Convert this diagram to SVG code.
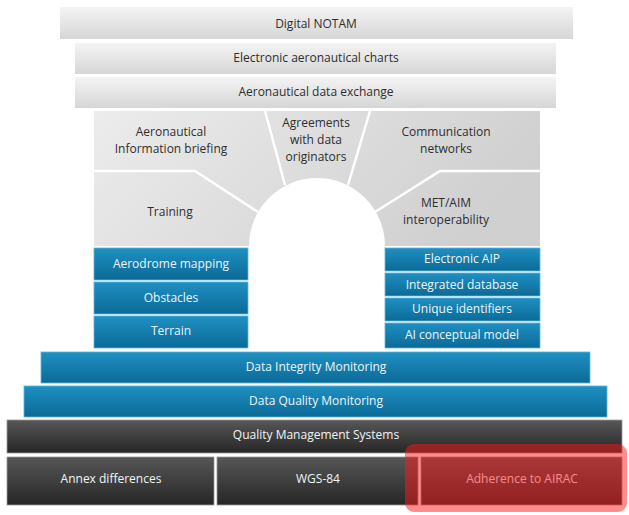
<svg xmlns="http://www.w3.org/2000/svg" width="629" height="515" viewBox="0 0 629 515">
<defs>
<linearGradient id="gTop" x1="0" y1="0" x2="0" y2="1">
<stop offset="0" stop-color="#f4f4f4"/><stop offset="1" stop-color="#d6d6d6"/>
</linearGradient>
<linearGradient id="gMid" x1="0" y1="0" x2="1" y2="0.3">
<stop offset="0" stop-color="#ececec"/><stop offset="1" stop-color="#d0d0d0"/>
</linearGradient>
<linearGradient id="gBlue" x1="0" y1="0" x2="0" y2="1">
<stop offset="0" stop-color="#1f90c2"/><stop offset="1" stop-color="#0b6a97"/>
</linearGradient>
<linearGradient id="gDark" x1="0" y1="0" x2="0" y2="1">
<stop offset="0" stop-color="#575757"/><stop offset="1" stop-color="#262626"/>
</linearGradient>
</defs>
<style>
text{font-family:"Open Sans","Liberation Sans",sans-serif;font-size:12px;text-anchor:middle}
.tg{fill:#2e2e2e}
.tw{fill:#eef5f9}
.top{fill:url(#gTop)}
.blue{fill:url(#gBlue);stroke:#5fb4da;stroke-width:0.8}
.dark{fill:url(#gDark);stroke:#9a9a9a;stroke-width:0.8}
.div{stroke:#ffffff;stroke-width:2.5;fill:none}
</style>
<rect width="629" height="515" fill="#ffffff"/>

<g id="digital-notam"><rect class="top" x="60" y="7" width="513" height="32"/><text class="tg" x="316" y="28">Digital NOTAM</text></g>
<g id="electronic-charts"><rect class="top" x="75" y="43" width="481" height="31"/><text class="tg" x="316" y="62">Electronic aeronautical charts</text></g>
<g id="data-exchange"><rect class="top" x="75" y="77" width="481" height="31"/><text class="tg" x="316" y="96">Aeronautical data exchange</text></g>

<g id="arch-area">
<path fill="url(#gMid)" d="M94 111 H540 V246 H385 A68 68 0 0 0 249 246 H94 Z"/>
</g>
<g id="dividers">
<path class="div" d="M94 171 H195 L258 212"/>
<path class="div" d="M540 171 H440 L375 212"/>
<path class="div" d="M265 111 L285 185"/>
<path class="div" d="M370 111 L348 185"/>
</g>
<g id="ai-briefing"><text class="tg" x="171" y="136">Aeronautical</text><text class="tg" x="171" y="153">Information briefing</text></g>
<g id="agreements"><text class="tg" x="316" y="127">Agreements</text><text class="tg" x="316" y="144">with data</text><text class="tg" x="316" y="161">originators</text></g>
<g id="communication"><text class="tg" x="446" y="136">Communication</text><text class="tg" x="446" y="153">networks</text></g>
<g id="training"><text class="tg" x="170" y="216">Training</text></g>
<g id="met-aim"><text class="tg" x="446" y="207">MET/AIM</text><text class="tg" x="446" y="224">interoperability</text></g>

<g id="aerodrome-mapping"><rect class="blue" x="94" y="248" width="154" height="32"/><text class="tw" x="171" y="268">Aerodrome mapping</text></g>
<g id="obstacles"><rect class="blue" x="94" y="282" width="154" height="32"/><text class="tw" x="171" y="302">Obstacles</text></g>
<g id="terrain"><rect class="blue" x="94" y="316" width="154" height="32"/><text class="tw" x="171" y="335">Terrain</text></g>

<g id="electronic-aip"><rect class="blue" x="385" y="248" width="155" height="23"/><text class="tw" x="462" y="263">Electronic AIP</text></g>
<g id="integrated-database"><rect class="blue" x="385" y="273" width="155" height="23"/><text class="tw" x="462" y="289">Integrated database</text></g>
<g id="unique-identifiers"><rect class="blue" x="385" y="298" width="155" height="23"/><text class="tw" x="462" y="313">Unique identifiers</text></g>
<g id="ai-conceptual-model"><rect class="blue" x="385" y="323" width="155" height="25"/><text class="tw" x="462" y="339">AI conceptual model</text></g>

<g id="data-integrity"><rect class="blue" x="41" y="352" width="549" height="31"/><text class="tw" x="316" y="371">Data Integrity Monitoring</text></g>
<g id="data-quality"><rect class="blue" x="24" y="386" width="583" height="31"/><text class="tw" x="316" y="405">Data Quality Monitoring</text></g>
<g id="qms"><rect class="dark" x="7" y="420" width="615" height="33"/><text class="tw" x="316" y="439">Quality Management Systems</text></g>
<g id="annex-differences"><rect class="dark" x="7" y="457" width="207" height="48"/><text class="tw" x="111" y="483">Annex differences</text></g>
<g id="wgs84"><rect class="dark" x="217" y="457" width="201" height="48"/><text class="tw" x="318" y="483">WGS-84</text></g>
<g id="airac"><rect class="dark" x="421" y="457" width="201" height="48"/><text class="tw" x="522" y="483">Adherence to AIRAC</text></g>
<rect x="405" y="444" width="222" height="68" rx="9" fill="#ff1a1a" fill-opacity="0.5"/>
</svg>
